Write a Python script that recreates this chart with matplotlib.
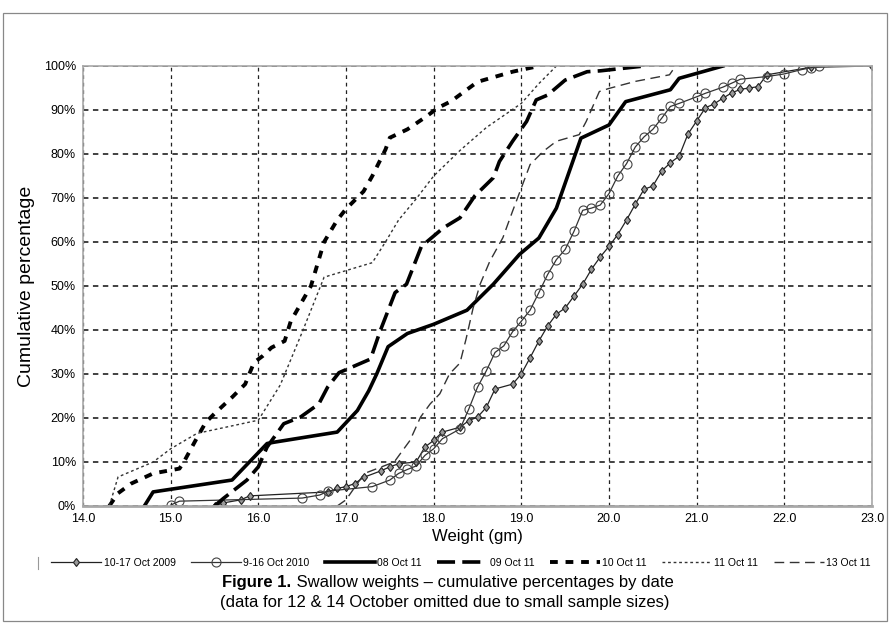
import matplotlib.pyplot as plt
from matplotlib.patches import Rectangle
from matplotlib.lines import Line2D

plt.rcParams['font.family'] = ['Liberation Sans', 'DejaVu Sans']
NARROW = ['Liberation Sans Narrow', 'Liberation Sans', 'DejaVu Sans']

# weights (gm) and cumulative percentages
w2009 = [15.5, 15.6, 15.8, 15.9, 16.8, 16.9, 17.0, 17.1, 17.2, 17.4, 17.5, 17.6, 17.8, 17.9, 18.0,
         18.1, 18.3, 18.4, 18.5, 18.6, 18.7, 18.9, 19.0, 19.1, 19.2, 19.3, 19.4, 19.5, 19.6, 19.7,
         19.8, 19.9, 20.0, 20.1, 20.2, 20.3, 20.4, 20.5, 20.6, 20.7, 20.8, 20.9, 21.0, 21.1, 21.2,
         21.3, 21.4, 21.5, 21.6, 21.7, 21.8, 22.3, 23.0]
p2009 = [0, 0.7, 1.4, 2.3, 3.2, 4.0, 4.4, 5.1, 6.5, 8.0, 8.9, 9.6, 10.0, 13.4, 14.9,
         16.8, 17.9, 19.4, 20.2, 22.4, 26.6, 27.7, 30.0, 33.7, 37.5, 40.9, 43.6, 45.0, 47.7, 50.4,
         53.8, 56.6, 59.0, 61.7, 65.0, 68.6, 72.0, 72.7, 76.1, 78.0, 79.5, 84.5, 87.5, 90.5, 91.4,
         92.7, 93.9, 94.7, 95.0, 95.3, 98.0, 99.7, 100]

w2010 = [15.0, 15.1, 16.5, 16.7, 16.8, 17.3, 17.5, 17.6, 17.7, 17.8, 17.9, 18.0, 18.1, 18.3, 18.4,
         18.5, 18.6, 18.7, 18.8, 18.9, 19.0, 19.1, 19.2, 19.3, 19.4, 19.5, 19.6, 19.7, 19.8, 19.9,
         20.0, 20.1, 20.2, 20.3, 20.4, 20.5, 20.6, 20.7, 20.8, 21.0, 21.1, 21.3, 21.4, 21.5, 21.8,
         22.0, 22.2, 22.3, 22.4]
p2010 = [0.2, 1.1, 1.8, 2.5, 3.4, 4.4, 5.9, 7.4, 8.3, 9.1, 11.5, 13.0, 15.3, 17.5, 22.0,
         27.0, 30.7, 34.9, 36.4, 39.6, 42.0, 44.5, 48.5, 52.6, 56.0, 58.3, 62.4, 67.2, 67.7, 68.4,
         71.0, 75.0, 77.8, 81.6, 83.9, 85.6, 88.1, 90.8, 91.5, 93.0, 93.8, 95.2, 96.1, 97.0, 97.6,
         98.2, 99.2, 99.6, 100]

w08 = [14.7, 14.8, 15.7, 16.1, 16.18, 16.9, 17.13, 17.26, 17.35, 17.48, 17.7, 18.0, 18.38, 18.68,
       18.98, 19.2, 19.4, 19.52, 19.68, 20.0, 20.19, 20.7, 20.8, 21.3]
p08 = [0, 3.2, 5.9, 14.2, 14.5, 16.8, 21.7, 26.2, 30, 36.2, 39.2, 41.3, 44.5, 50.4,
       57.2, 60.9, 67.7, 74.5, 83.6, 86.6, 91.9, 94.6, 97.2, 100]

w09 = [15.5, 15.6, 15.87, 16.0, 16.1, 16.29, 16.48, 16.69, 16.79, 16.92, 17.28, 17.39, 17.56, 17.69,
       17.86, 18.11, 18.3, 18.47, 18.68, 18.75, 18.9, 19.06, 19.17, 19.3, 19.5, 19.75, 19.9, 20.4]
p09 = [0, 1.7, 5.9, 8.9, 13.4, 18.7, 20.2, 23.2, 27, 30.3, 33.4, 39.8, 48.5, 50.4,
       59, 63.2, 65.5, 70.5, 74.6, 78.3, 82.9, 87.4, 92.3, 93.4, 96.8, 98.7, 98.9, 100]

w10 = [14.3, 14.4, 14.55, 14.8, 15.1, 15.15, 15.3, 15.4, 15.5, 15.7, 15.85, 15.95, 16.05, 16.15,
       16.3, 16.37, 16.6, 16.75, 16.9, 17.0, 17.2, 17.3, 17.45, 17.5, 17.7, 17.9, 18.05, 18.2,
       18.5, 18.9, 19.2]
p10 = [0, 2.9, 5.1, 7.4, 8.5, 10, 15.5, 19, 21, 24.7, 27.7, 32.6, 34.1, 36,
       37.5, 42, 50, 60, 65, 67.5, 71.5, 75, 81, 83.7, 85.6, 88.3, 90.5, 92,
       96.4, 98.7, 100]

w11 = [14.3, 14.4, 14.8, 15.0, 15.3, 16.0, 16.25, 16.5, 16.75, 17.3, 17.45, 17.6, 17.8, 18.0,
       18.3, 18.6, 19.0, 19.2, 19.4]
p11 = [0, 6.6, 10, 13, 16.5, 19.5, 27.5, 39.5, 52, 55.3, 60, 65, 69.8, 75,
       80.8, 86, 91.5, 96, 100]

w13 = [16.9, 17.0, 17.21, 17.55, 17.73, 17.85, 17.96, 18.07, 18.18, 18.3, 18.37, 18.45, 18.53,
       18.64, 18.79, 18.9, 19.0, 19.1, 19.25, 19.4, 19.66, 19.74, 19.89, 20.0, 20.3, 20.69, 20.76]
p13 = [0, 1.4, 7.4, 10, 14.9, 20.2, 23.2, 25.5, 30, 32.5, 38, 45, 50.4,
       55.6, 61, 67, 72.3, 77.6, 80.6, 82.9, 84.4, 87.4, 94.2, 94.9, 96.5, 98, 100]

labels = ['10-17 Oct 2009', '9-16 Oct 2010', '08 Oct 11', '09 Oct 11', '10 Oct 11', '11 Oct 11', '13 Oct 11']
xticks = [14.0, 15.0, 16.0, 17.0, 18.0, 19.0, 20.0, 21.0, 22.0, 23.0]
yticks = [0, 10, 20, 30, 40, 50, 60, 70, 80, 90, 100]

fig = plt.figure(figsize=(8.9, 6.24), dpi=100)
ax = fig.add_axes([83 / 890, 1 - 506 / 624, 789 / 890, 440 / 624])

ax.plot(w2009, p2009, color='#222222', lw=0.9, marker='d', ms=4.5, mfc='#999999', mec='#222222',
        mew=0.8, label=labels[0])
ax.plot(w2010, p2010, color='#333333', lw=0.9, marker='o', ms=6.5, mfc='none', mec='#444444',
        mew=0.8, label=labels[1])
ax.plot(w08, p08, color='black', lw=2.6, label=labels[2])
ax.plot(w09, p09, color='black', lw=2.6, linestyle=(0, (5, 2)), label=labels[3])
ax.plot(w10, p10, color='black', lw=2.8, linestyle=(0, (2, 2)), label=labels[4])
ax.plot(w11, p11, color='#333333', lw=1.0, linestyle=(0, (2, 2)), label=labels[5])
ax.plot(w13, p13, color='#333333', lw=1.0, linestyle=(0, (7, 4)), label=labels[6])

ax.set_xlim(14, 23)
ax.set_ylim(0, 100)
ax.set_xticks(xticks)
ax.set_xticklabels(['%.1f' % t for t in xticks])
ax.set_yticks(yticks)
ax.set_yticklabels(['%d%%' % t for t in yticks])
ax.tick_params(length=0, labelsize=9, pad=5)
ax.xaxis.grid(True, color='#222222', linestyle=(0, (3, 3)), lw=0.9)
ax.yaxis.grid(True, color='#333333', linestyle=(0, (3, 2.5)), lw=1.3)
ax.set_axisbelow(True)
for s in ax.spines.values():
    s.set_color('#a8a8a8')
    s.set_linewidth(1.2)
ax.spines['bottom'].set_linewidth(2)

ax.set_xlabel('Weight (gm)', fontsize=12, labelpad=3)
ax.set_ylabel('Cumulative percentage', fontsize=14, labelpad=6)

fig.legend(loc='center', bbox_to_anchor=(0.518, 1 - 563 / 624), ncol=7, frameon=False,
           prop={'family': NARROW, 'size': 7.5}, handlelength=4.8, handletextpad=0.2,
           columnspacing=1.5, numpoints=1)
fig.add_artist(Line2D([38 / 890, 38 / 890], [1 - 569 / 624, 1 - 557 / 624], color='#999999', lw=0.8))

t1 = fig.text(0.25, 1 - 583 / 624, 'Figure 1.', fontsize=12, fontweight='bold', family=NARROW,
              ha='left', va='center')
ax.annotate(' Swallow weights \u2013 cumulative percentages by date', xy=(1, 0.5), xycoords=t1,
            fontsize=12, family=NARROW, ha='left', va='center', annotation_clip=False)
fig.text(0.5, 1 - 602 / 624, '(data for 12 & 14 October omitted due to small sample sizes)',
         fontsize=12, family=NARROW, ha='center', va='center')

fig.add_artist(Rectangle((3 / 890, 3 / 624), 884 / 890, 1 - 16 / 624, transform=fig.transFigure,
                         fill=False, edgecolor='#888888', lw=0.9))

fig.savefig('out.png', dpi=100)
